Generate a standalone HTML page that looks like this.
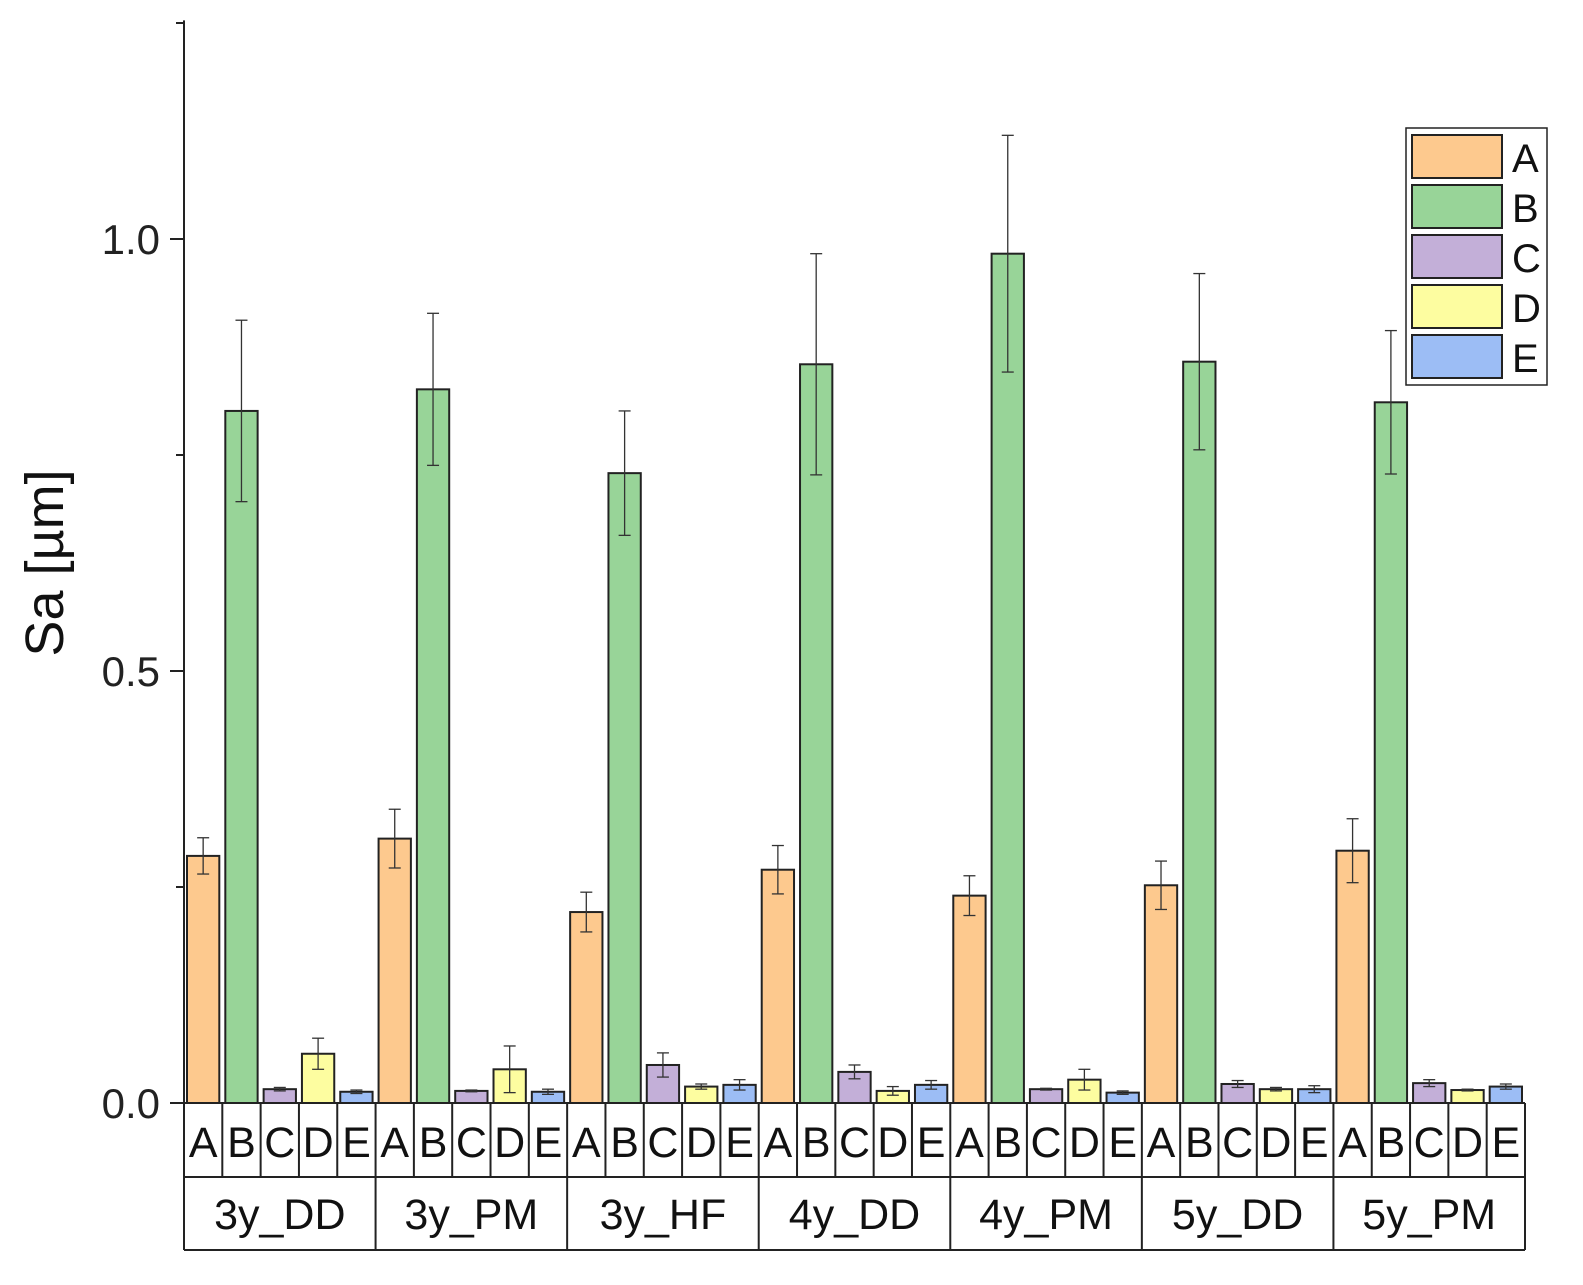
<!DOCTYPE html>
<html><head><meta charset="utf-8"><style>
html,body{margin:0;padding:0;background:#fff;}
svg{display:block;font-family:"Liberation Sans",sans-serif;}
</style></head><body>
<svg id="chart" width="1583" height="1285" viewBox="0 0 1583 1285"></svg>
<script>
const groups=["3y_DD","3y_PM","3y_HF","4y_DD","4y_PM","5y_DD","5y_PM"];
const series=["A","B","C","D","E"];
const colors=["#fdc98e","#98d498","#c3afd8","#fdfda0","#9cbdf5"];
const valA=[0.286,0.306,0.221,0.270,0.240,0.252,0.292];
const errA=[0.021,0.034,0.023,0.028,0.023,0.028,0.037];
const valB=[0.801,0.826,0.729,0.855,0.983,0.858,0.811];
const errB=[0.105,0.088,0.072,0.128,0.137,0.102,0.083];
const valC=[0.016,0.014,0.044,0.036,0.016,0.022,0.023];
const errC=[0.002,0.001,0.014,0.008,0.001,0.004,0.004];
const valD=[0.057,0.039,0.019,0.014,0.027,0.016,0.015];
const errD=[0.018,0.027,0.003,0.005,0.012,0.002,0.001];
const valE=[0.013,0.013,0.021,0.021,0.012,0.016,0.019];
const errE=[0.002,0.003,0.006,0.005,0.002,0.004,0.003];
const yTicks=[0,0.5,1.0];
const yTickLabels=["0.0","0.5","1.0"];
const yMinor=[0.25,0.75,1.25];
const vals=[valA,valB,valC,valD,valE], errs=[errA,errB,errC,errD,errE];

const svg=document.getElementById('chart');
const NS='http://www.w3.org/2000/svg';
const x0=184,x1=1525,y0=1103,pxPerUnit=864;
const y=v=>y0-v*pxPerUnit;
const gW=(x1-x0)/groups.length, sW=gW/series.length;
function mk(tag,attrs,parent){const e=document.createElementNS(NS,tag);for(const k in attrs)e.setAttribute(k,attrs[k]);(parent||svg).appendChild(e);return e;}

groups.forEach((g,gi)=>{
  series.forEach((s,si)=>{
    const v=vals[si][gi], er=errs[si][gi];
    const bx=x0+gi*gW+si*sW+3, bw=sW-6;
    const r=mk('rect',{x:bx,y:y(v),width:bw,height:y0-y(v),fill:colors[si],stroke:'#222','stroke-width':2});
    
    
    const cx=bx+bw/2;
    const eg=mk('g',{stroke:'#333','stroke-width':1.3,fill:'none'});
    
    
    mk('line',{x1:cx,x2:cx,y1:y(v+er),y2:y(v-er)},eg);
    mk('line',{x1:cx-6,x2:cx+6,y1:y(v+er),y2:y(v+er)},eg);
    mk('line',{x1:cx-6,x2:cx+6,y1:y(v-er),y2:y(v-er)},eg);
  });
});

const ax=mk('g',{stroke:'#222','stroke-width':2});


mk('line',{x1:x0,x2:x0,y1:y(1.253),y2:y0},ax);
yTicks.forEach((t,i)=>{
  mk('line',{x1:x0-14,x2:x0,y1:y(t),y2:y(t)},ax);
  const tx=mk('text',{x:x0-24,y:y(t)+15,'font-size':42,'text-anchor':'end',fill:'#222',stroke:'none'});
  tx.textContent=yTickLabels[i];
  
  
});
yMinor.forEach(t=>mk('line',{x1:x0-8,x2:x0,y1:y(t),y2:y(t)},ax));
const yt=mk('text',{x:0,y:0,'font-size':54,'text-anchor':'middle',fill:'#111',transform:'translate(63,563) rotate(-90)'});
yt.textContent='Sa [µm]';



const tb=mk('g',{stroke:'#222','stroke-width':2,fill:'none'});


mk('line',{x1:x0,x2:x1,y1:y0,y2:y0},tb);
mk('line',{x1:x0,x2:x1,y1:1177,y2:1177},tb);
mk('line',{x1:x0,x2:x1,y1:1250,y2:1250},tb);
for(let i=0;i<=groups.length*series.length;i++){
  const xx=x0+i*sW;
  mk('line',{x1:xx,x2:xx,y1:y0,y2:(i%series.length===0)?1250:1177},tb);
}
groups.forEach((g,gi)=>{
  series.forEach((s,si)=>{
    const t=mk('text',{x:x0+gi*gW+(si+0.5)*sW,y:1157,'font-size':43,'text-anchor':'middle',fill:'#111'});
    t.textContent=s;
    
    
  });
  const t=mk('text',{x:x0+(gi+0.5)*gW,y:1229,'font-size':43,'text-anchor':'middle',fill:'#111'});
  t.textContent=g;
  
  
});

const lg=mk('g',{});


mk('rect',{x:1406,y:128,width:141,height:257,fill:'#fff',stroke:'#222','stroke-width':1.5},lg);
series.forEach((s,si)=>{
  const e=mk('g',{},lg);
  
  
  mk('rect',{x:1412,y:135+si*50,width:90,height:43,fill:colors[si],stroke:'#222','stroke-width':2},e);
  const t=mk('text',{x:1512,y:172+si*50,'font-size':40,fill:'#111'},e);
  t.textContent=s;
});
</script>
</body></html>
